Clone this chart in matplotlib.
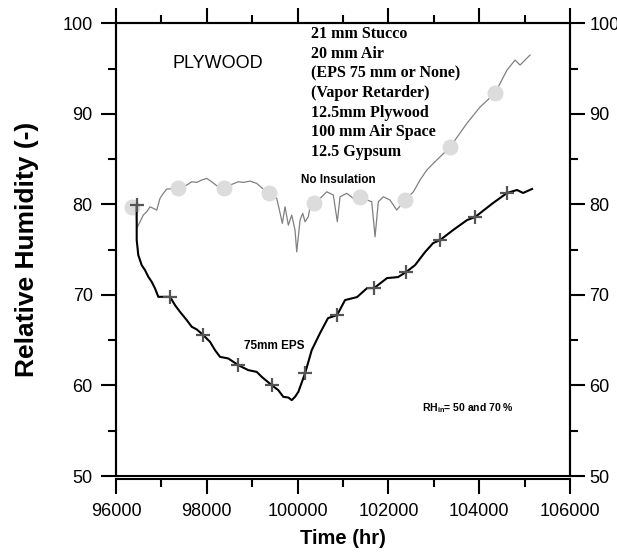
import matplotlib
matplotlib.use("Agg")
import matplotlib.pyplot as plt
import numpy as np

plt.rcParams['font.family'] = ['Liberation Sans', 'DejaVu Sans']
plt.rcParams['mathtext.fontset'] = 'custom'
plt.rcParams['mathtext.rm'] = 'Liberation Sans'
plt.rcParams['mathtext.bf'] = 'Liberation Sans:bold'

# No insulation (gray line)
t_none = [96441, 96456, 96529, 96601, 96676, 96749, 96822, 96897, 96969, 97042,
          97117, 97372, 97558, 97668, 97778, 97888, 97998, 98108, 98218, 98379,
          98549, 98694, 98804, 98952, 99100, 99210, 99371, 99540, 99591, 99664,
          99723, 99796, 99871, 99943, 99981, 100054, 100113, 100164, 100236, 100274,
          100369, 100532, 100642, 100787, 100875, 100935, 101082, 101228, 101375, 101633,
          101706, 101778, 101889, 102036, 102184, 102367, 102550, 102697, 102845, 102990,
          103358, 103733, 104019, 104349, 104613, 104790, 104900, 105120]
rh_none = [79.70, 77.35, 78.08, 78.82, 79.18, 79.73, 79.56, 79.37, 80.66, 81.22,
           81.69, 81.77, 82.13, 82.50, 82.43, 82.69, 82.87, 82.50, 82.06, 81.77,
           82.21, 82.50, 82.43, 82.57, 82.32, 81.83, 81.22, 80.66, 79.56, 77.90,
           79.73, 77.71, 78.82, 77.16, 74.76, 78.27, 79.01, 78.08, 78.63, 79.73,
           80.11, 80.84, 81.39, 81.03, 78.08, 80.84, 81.22, 80.66, 80.77, 80.29,
           76.42, 80.29, 80.84, 80.48, 79.37, 80.48, 81.39, 82.69, 83.79, 84.53,
           86.33, 88.98, 90.75, 92.30, 94.84, 95.94, 95.39, 96.50]

# 75 mm EPS (black line)
t_eps = [96456, 96456, 96491, 96566, 96639, 96712, 96786, 96859, 96932, 97190,
         97300, 97410, 97558, 97668, 97778, 97923, 98071, 98181, 98291, 98474,
         98694, 98915, 99100, 99210, 99430, 99575, 99686, 99796, 99871, 99943,
         100016, 100164, 100311, 100494, 100670, 100869, 101045, 101309, 101530, 101684,
         101970, 102212, 102389, 102587, 102807, 102984, 103138, 103424, 103733, 103909,
         104305, 104613, 104834, 104966, 105164]
rh_eps = [79.92, 76.06, 74.40, 73.29, 72.74, 72.00, 71.45, 70.72, 69.79, 69.79,
          68.87, 68.13, 67.22, 66.48, 66.19, 65.56, 64.82, 63.90, 63.16, 62.98,
          62.24, 61.69, 61.50, 60.95, 60.03, 59.48, 58.74, 58.67, 58.38, 58.74,
          59.29, 61.33, 63.90, 65.78, 67.44, 67.77, 69.43, 69.76, 70.75, 70.75,
          71.86, 71.97, 72.52, 73.29, 74.73, 75.72, 76.06, 77.16, 78.27, 78.60,
          80.15, 81.26, 81.59, 81.26, 81.70]

# symbols drawn along the curves
t_circ = [96346, 97372, 98379, 99371, 100369, 101375, 102367, 103358, 104349]
rh_circ = [79.73, 81.77, 81.77, 81.22, 80.11, 80.77, 80.48, 86.33, 92.30]
t_cross = [96456, 97190, 97923, 98694, 99430, 100164, 100869, 101684, 102389,
           103138, 103909, 104613]
rh_cross = [79.92, 69.79, 65.56, 62.24, 60.03, 61.33, 67.77, 70.75, 72.52,
            76.06, 78.60, 81.26]

x_ticks = [96000, 98000, 100000, 102000, 104000, 106000]
x_labels = ['96000', '98000', '100000', '102000', '104000', '106000']
y_ticks = [50, 60, 70, 80, 90, 100]

layers = ['21 mm Stucco', '20 mm Air', '(EPS 75 mm or None)', '(Vapor Retarder)',
          '12.5mm Plywood', '100 mm Air Space', '12.5 Gypsum']

fig = plt.figure(figsize=(6.17, 5.55), dpi=100)
ax = fig.add_axes([116 / 617, 1 - 476 / 555, 454 / 617, 452.7 / 555])

ax.plot(t_none, rh_none, color='#808080', lw=0.9, zorder=2)
ax.plot(t_circ, rh_circ, 'o', ms=10.5, color='#dcdcdc', mec='#dcdcdc', zorder=3)
ax.plot(t_eps, rh_eps, color='black', lw=1.5, zorder=4)
ax.plot(t_cross, rh_cross, '+', ms=10, mew=1.6, color='#555555', zorder=5)

ax.set_xlim(96000, 106000)
ax.set_ylim(50, 100)
ax.set_xticks(x_ticks)
ax.set_xticklabels(x_labels)
ax.set_xticks(np.arange(97000, 106000, 2000), minor=True)
ax.set_yticks(y_ticks)
ax.set_yticks([55, 65, 75, 85, 95], minor=True)

for s in ax.spines.values():
    s.set_linewidth(1.5)
ax.spines['bottom'].set_position(('outward', 2))

ax.tick_params(which='both', direction='out', width=1.5, top=True, right=True,
               labelsize=13)
ax.tick_params(which='major', length=10.8)
ax.tick_params(which='minor', length=6)
ax.tick_params(axis='x', pad=7)
ax.tick_params(axis='y', pad=6)

ax2 = ax.twinx()
ax2.set_ylim(50, 100)
ax2.set_yticks(y_ticks)
ax2.set_yticks([55, 65, 75, 85, 95], minor=True)
for s in ax2.spines.values():
    s.set_linewidth(1.5)
ax2.tick_params(which='both', direction='out', width=1.5, pad=3, labelsize=13)
ax2.tick_params(which='major', length=10.8)
ax2.tick_params(which='minor', length=6)

ax.set_xlabel('Time (hr)', fontsize=14.5, fontweight='bold')
ax.xaxis.set_label_coords(0.5, -0.118)
ax.set_ylabel('Relative Humidity (-)', fontsize=19, fontweight='bold')
ax.yaxis.set_label_coords(-0.17, 0.5)

ax.text(98236, 95.6, 'PLYWOOD', fontsize=13, ha='center', va='center')
for i, line in enumerate(layers):
    ax.text(100289, 98.82 - 2.17 * i, line, family='Liberation Serif',
            fontweight='bold', fontsize=11.5, ha='left', va='center')
ax.text(100902, 82.7, 'No Insulation', fontsize=8.5, fontweight='bold',
        ha='center', va='center')
ax.text(99487, 64.34, '75mm EPS', fontsize=8.5, fontweight='bold',
        ha='center', va='center')
ax.text(102741, 57.5, r'RH$_{\mathbf{in}}$= 50 and 70 %', fontsize=7.5,
        fontweight='bold', ha='left', va='center')

fig.savefig('out.png', dpi=100)
